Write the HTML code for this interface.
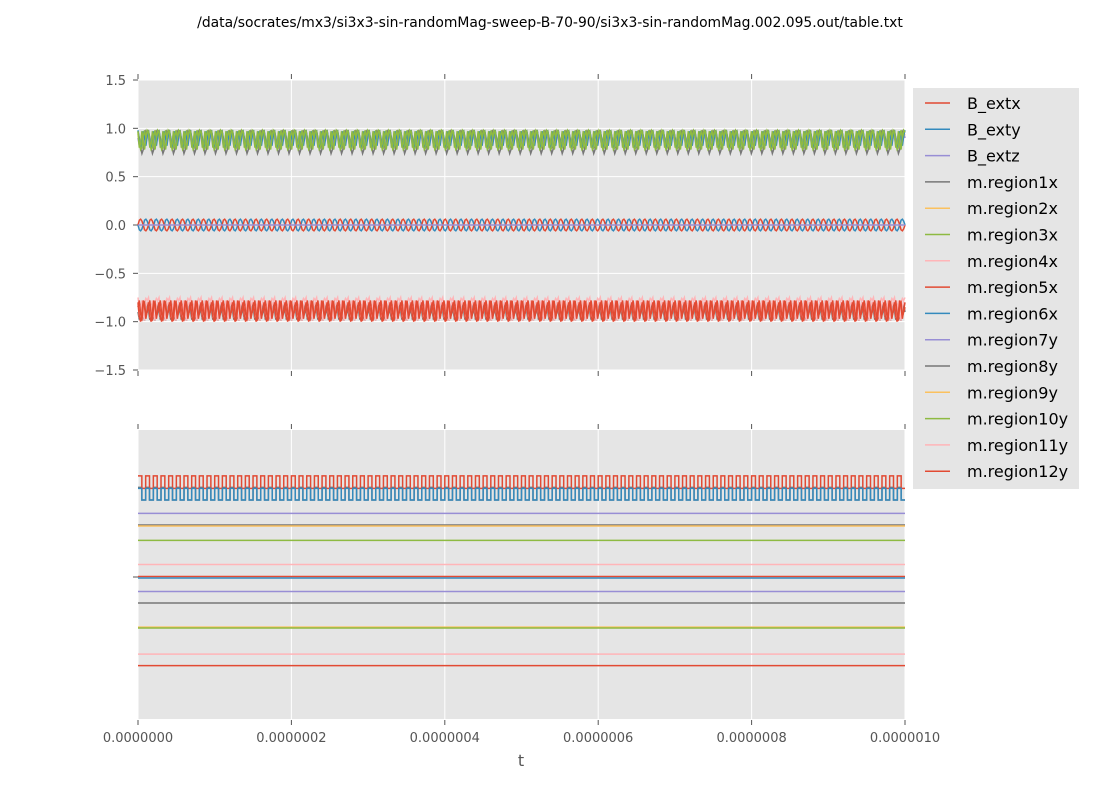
<!DOCTYPE html>
<html><head><meta charset="utf-8"><style>
body{margin:0;background:#fff;font-family:"Liberation Sans","DejaVu Sans",sans-serif}
svg text{font-family:"DejaVu Sans","Liberation Sans",sans-serif}
</style></head><body>
<svg id="chart" width="1100" height="800" viewBox="0 0 1100 800">
<text x="550" y="27" text-anchor="middle" font-size="13.9">/data/socrates/mx3/si3x3-sin-randomMag-sweep-B-70-90/si3x3-sin-randomMag.002.095.out/table.txt</text>
<g id="top"></g>
<g id="bot"></g>
<text x="521" y="766" text-anchor="middle" font-size="16" fill="#555">t</text>
<g id="legend"></g>
</svg>
<script>
const xTicks=[0,0.0000002,0.0000004,0.0000006,0.0000008,0.000001];
const xTickLabels=["0.0000000","0.0000002","0.0000004","0.0000006","0.0000008","0.0000010"];
const yTicksTop=[1.5,1.0,0.5,0.0,-0.5,-1.0,-1.5];
const yTickLabelsTop=["1.5","1.0","0.5","0.0","\u22120.5","\u22121.0","\u22121.5"];
const seriesNames=["B_extx","B_exty","B_extz","m.region1x","m.region2x","m.region3x","m.region4x","m.region5x","m.region6x","m.region7y","m.region8y","m.region9y","m.region10y","m.region11y","m.region12y"];
const seriesColors=["#e24a33","#348abd","#988ed5","#777777","#fbc15e","#8eba42","#ffb5b8","#e24a33","#348abd","#988ed5","#777777","#fbc15e","#8eba42","#ffb5b8","#e24a33"];
const topCycles=73;
const topPeriod=[
 [0,0.05,0.06,0.04,0,-0.05,-0.06,-0.04],
 [0,-0.05,-0.06,-0.04,0,0.05,0.06,0.04],
 [0,0,0,0,0,0,0,0],
 [0.97,0.9,0.8,0.74,0.78,0.9,0.97,0.95],
 [0.95,0.9,0.85,0.8,0.85,0.92,0.96,0.97],
 [0.97,0.85,0.78,0.8,0.92,0.98,0.9,0.96],
 [-0.75,-0.85,-0.95,-0.98,-0.9,-0.8,-0.76,-0.78],
 [-0.8,-0.95,-1.0,-0.9,-0.78,-0.85,-0.97,-0.88],
 [0.98,0.88,0.8,0.85,0.97,0.9,0.82,0.92],
 [0.9,0.82,0.86,0.95,0.92,0.84,0.88,0.96],
 [-0.9,-0.98,-0.85,-0.8,-0.95,-0.99,-0.88,-0.82],
 [0.94,0.86,0.83,0.9,0.96,0.88,0.84,0.92],
 [0.96,0.8,0.84,0.97,0.86,0.78,0.9,0.98],
 [-0.82,-0.96,-0.88,-0.78,-0.92,-0.99,-0.84,-0.8],
 [-0.85,-0.78,-0.92,-0.99,-0.82,-0.8,-0.95,-0.9]
];
const botCycles=100;
const botPeriod=[
 [1.05,1.05,0.92,0.92],
 [0.92,0.92,0.80,0.80],
 [0.66,0.66,0.66,0.66],
 [0.54,0.54,0.54,0.54],
 [0.53,0.53,0.53,0.53],
 [0.38,0.38,0.38,0.38],
 [0.13,0.13,0.13,0.13],
 [0.005,0.005,0.005,0.005],
 [-0.01,-0.01,-0.01,-0.01],
 [-0.15,-0.15,-0.15,-0.15],
 [-0.27,-0.27,-0.27,-0.27],
 [-0.52,-0.52,-0.52,-0.52],
 [-0.53,-0.53,-0.53,-0.53],
 [-0.80,-0.80,-0.80,-0.80],
 [-0.92,-0.92,-0.92,-0.92]
];
const botSeriesIdx=[14,8,9,3,4,5,6,7,1,2,10,11,12,13,0];
const NS="http://www.w3.org/2000/svg";
function mk(t,a,p){const e=document.createElementNS(NS,t);for(const k in a)e.setAttribute(k,a[k]);p.appendChild(e);return e;}
const X0=138,X1=905,XMAX=0.000001;
const xs=v=>X0+v/XMAX*(X1-X0);
function axes(g,top,bottom,ymin,ymax,showXLabels,yt,ytl){
  const ys=v=>top+(ymax-v)/(ymax-ymin)*(bottom-top);
  const bg=mk('rect',{x:X0,y:top,width:X1-X0,height:bottom-top,fill:'#e5e5e5'},g);
  
  
  xTicks.forEach((t,i)=>{
    const gl=mk('line',{x1:xs(t),x2:xs(t),y1:top,y2:bottom,stroke:'#fff','stroke-width':1},g);
    
    
    mk('line',{x1:xs(t),x2:xs(t),y1:top-6,y2:top-1,stroke:'#555'},g);
    mk('line',{x1:xs(t),x2:xs(t),y1:bottom+1,y2:bottom+6,stroke:'#555'},g);
    if(showXLabels){const tx=mk('text',{x:xs(t),y:bottom+23,'text-anchor':'middle','font-size':13,fill:'#555'},g);tx.textContent=xTickLabels[i];
      
      }
  });
  yt.forEach((t,i)=>{
    const gl=mk('line',{x1:X0,x2:X1,y1:ys(t),y2:ys(t),stroke:'#fff'},g);
    
    
    mk('line',{x1:X0-5,x2:X0,y1:ys(t),y2:ys(t),stroke:'#555'},g);
    if(ytl){const tx=mk('text',{x:X0-12,y:ys(t)+5,'text-anchor':'end','font-size':13,fill:'#555'},g);tx.textContent=ytl[i];
      
      }
  });
  return ys;
}
const gTop=document.getElementById('top');
const ysT=axes(gTop,80,370,-1.5,1.5,false,yTicksTop,yTickLabelsTop);
const order=[3,9,11,8,12,5,1,0,2,6,10,13,14,7];
order.forEach(si=>{
  const per=topPeriod[si],n=per.length,tot=topCycles*n;let d='';
  for(let k=0;k<=tot;k++){const x=xs(k/tot*XMAX),y=ysT(per[k%n]);d+=(k?'L':'M')+x.toFixed(2)+' '+y.toFixed(2);}
  const p=mk('path',{d:d,fill:'none',stroke:seriesColors[si],'stroke-width':1.5},gTop);
  
  
});
const gBot=document.getElementById('bot');
const ysB=axes(gBot,430,719,-1.474,1.526,true,[0],null);
(function(){const per=botPeriod[0],n=per.length,tot=botCycles*n;let d='';
  for(let k=0;k<tot;k++){const x0=xs(k/tot*XMAX),x1=xs((k+1)/tot*XMAX),y=ysB(per[k%n]-0.12);d+=(k?'L':'M')+x0.toFixed(2)+' '+y.toFixed(2)+'L'+x1.toFixed(2)+' '+y.toFixed(2);}
  const p=mk('path',{d:d,fill:'none',stroke:'#777','stroke-width':1.5},gBot);
  
  })();
botPeriod.forEach((per,i)=>{
  const si=botSeriesIdx[i],n=per.length,tot=botCycles*n;let d='';
  for(let k=0;k<tot;k++){const x0=xs(k/tot*XMAX),x1=xs((k+1)/tot*XMAX),y=ysB(per[k%n]);d+=(k?'L':'M')+x0.toFixed(2)+' '+y.toFixed(2)+'L'+x1.toFixed(2)+' '+y.toFixed(2);}
  const p=mk('path',{d:d,fill:'none',stroke:seriesColors[si],'stroke-width':1.5},gBot);
  
  
});
const gL=document.getElementById('legend');
const lb=mk('rect',{x:913,y:88,width:166,height:401,fill:'#e5e5e5'},gL);


seriesNames.forEach((nm,i)=>{
  const y=103+i*26.3;
  const g=mk('g',{},gL);
  
  
  mk('line',{x1:925,x2:950,y1:y,y2:y,stroke:seriesColors[i],'stroke-width':1.5},g);
  const t=mk('text',{x:967,y:y+6,'font-size':16,fill:'#000'},g);t.textContent=nm;
});
</script>
</body></html>
